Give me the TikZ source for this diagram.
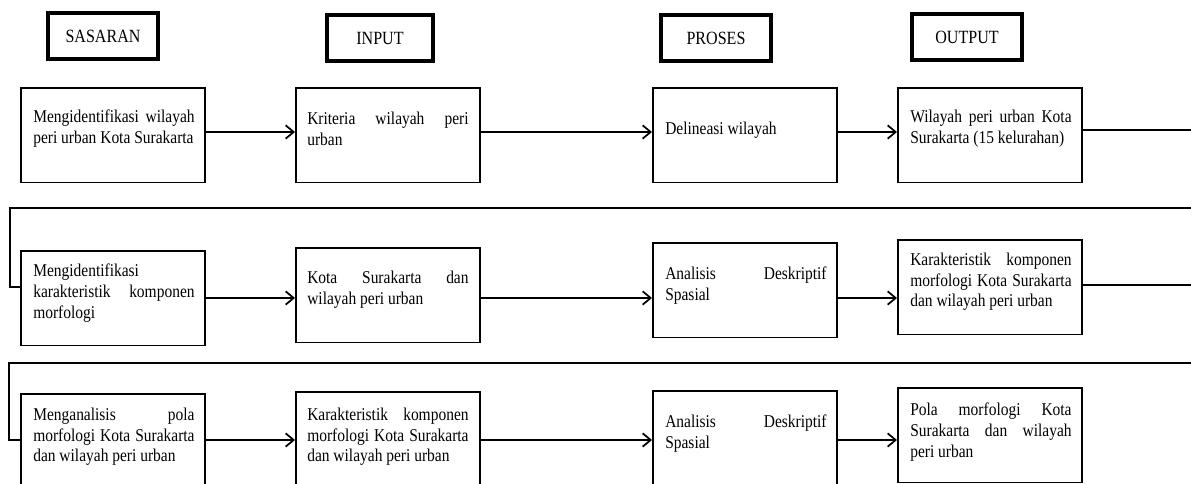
\documentclass[tikz,border=0pt]{standalone}
\usepackage{fontspec}
\setmainfont{Liberation Serif}[FakeStretch=0.86]
\usetikzlibrary{positioning, arrows.meta}

\begin{document}
\begin{tikzpicture}[
        x=0.75pt, y=-0.75pt,
        head/.style={rectangle, draw=black, line width=3pt, minimum width=82pt, minimum height=34.5pt, inner sep=0pt, font=\fontsize{14}{16}\selectfont},
        box/.style={rectangle, draw=black, line width=1.3pt, minimum width=138pt, minimum height=71pt, anchor=north west, inner sep=0pt},
        txt/.style={anchor=north west, text width=121pt, align=justify, inner sep=0pt, font=\fontsize{13.5}{15.4}\selectfont},
        arrow/.style={-{Straight Barb[length=6pt, width=10pt, line width=1.3pt]}, line width=1.3pt, draw=black},
        link/.style={line width=1.3pt, draw=black}
    ]

    \useasboundingbox (0,0) rectangle (1191,484);
    \clip (0,0) rectangle (1191,484);

    % Headers
    \node[head] (sasaran) at (103,36) {SASARAN};
    \node[head, minimum width=79.5pt] (input) at (380,38) {INPUT};
    \node[head] (proses) at (716,38) {PROSES};
    \node[head] (output) at (967,37) {OUTPUT};

    % Row 1
    \node[box] (s11) at (20,87) {};
    \node[box] (s12) at (295,87) {};
    \node[box] (s13) at (652,87) {};
    \node[box] (s14) at (897,87) {};
    \node[txt] (s11t) at ([shift={(13,23)}]s11.north west) {Mengidentifikasi wilayah\linebreak peri urban Kota Surakarta};
    \node[txt] (s12t) at ([shift={(12,25)}]s12.north west) {Kriteria wilayah peri\linebreak urban};
    \node[txt] (s13t) at ([shift={(13,35)}]s13.north west) {Delineasi wilayah};
    \node[txt] (s14t) at ([shift={(13,23)}]s14.north west) {Wilayah peri urban Kota\linebreak Surakarta (15 kelurahan)};

    % Row 2
    \node[box] (s21) at (20,250) {};
    \node[box] (s22) at (295,247) {};
    \node[box] (s23) at (652,242) {};
    \node[box] (s24) at (897,239) {};
    \node[txt] (s21t) at ([shift={(13,14)}]s21.north west) {Mengidentifikasi\newline karakteristik komponen\linebreak morfologi};
    \node[txt] (s22t) at ([shift={(12,24)}]s22.north west) {Kota Surakarta dan\linebreak wilayah peri urban};
    \node[txt] (s23t) at ([shift={(13,25)}]s23.north west) {Analisis Deskriptif\linebreak Spasial};
    \node[txt] (s24t) at ([shift={(13,14)}]s24.north west) {Karakteristik komponen\linebreak morfologi Kota Surakarta\linebreak dan wilayah peri urban};

    % Row 3
    \node[box] (s31) at (20,393) {};
    \node[box] (s32) at (295,391) {};
    \node[box] (s33) at (652,390) {};
    \node[box] (s34) at (897,387) {};
    \node[txt] (s31t) at ([shift={(13,15)}]s31.north west) {Menganalisis pola\linebreak morfologi Kota Surakarta\linebreak dan wilayah peri urban};
    \node[txt] (s32t) at ([shift={(12,17)}]s32.north west) {Karakteristik komponen\linebreak morfologi Kota Surakarta\linebreak dan wilayah peri urban};
    \node[txt] (s33t) at ([shift={(13,25)}]s33.north west) {Analisis Deskriptif\linebreak Spasial};
    \node[txt] (s34t) at ([shift={(13,16)}]s34.north west) {Pola morfologi Kota\linebreak Surakarta dan wilayah\linebreak peri urban};

    % Row levels and turns
    \coordinate (r1) at (0,132);
    \coordinate (r2) at (0,298);
    \coordinate (r3) at (0,440);
    \coordinate (e1) at (1205,208);
    \coordinate (w1) at (10,208);
    \coordinate (e2) at (1205,363);
    \coordinate (w2) at (9,363);

    % Arrows
    \draw[arrow] (s11.east |- r1) -- (s12.west |- r1);
    \draw[arrow] (s12.east |- r1) -- (s13.west |- r1);
    \draw[arrow] (s13.east |- r1) -- (s14.west |- r1);
    \draw[arrow] (s21.east |- r2) -- (s22.west |- r2);
    \draw[arrow] (s22.east |- r2) -- (s23.west |- r2);
    \draw[arrow] (s23.east |- r2) -- (s24.west |- r2);
    \draw[arrow] (s31.east |- r3) -- (s32.west |- r3);
    \draw[arrow] (s32.east |- r3) -- (s33.west |- r3);
    \draw[arrow] (s33.east |- r3) -- (s34.west |- r3);

    % Row links
    \draw[link] (s14.east |- 0,130) -| (e1) -- (w1) |- (s21.west |- 0,287);
    \draw[link] (s24.east |- 0,285) -| (e2) -- (w2) |- (s31.west |- 0,440);

\end{tikzpicture}
\end{document}
